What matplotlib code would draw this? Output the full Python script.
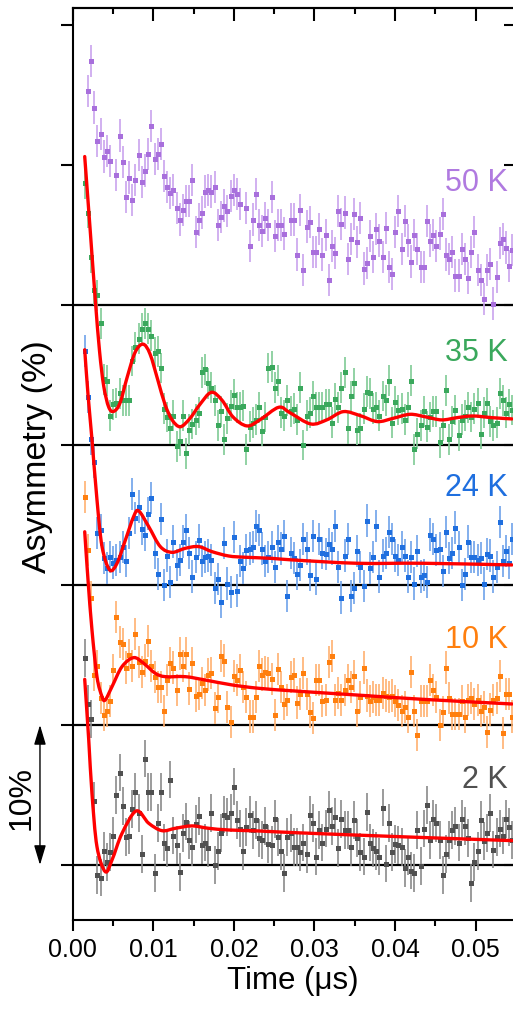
import numpy as np
import matplotlib
matplotlib.use('Agg')
import matplotlib.pyplot as plt
from matplotlib.path import Path
from matplotlib.patches import PathPatch
from matplotlib.ticker import MultipleLocator, FormatStrFormatter

plt.rcParams['font.family'] = ['Liberation Sans', 'DejaVu Sans']

# ---------------- data ----------------
time_us = [
    0.00150, 0.00189, 0.00229, 0.00268, 0.00307, 0.00347, 0.00386, 0.00425, 0.00464, 0.00504,
    0.00543, 0.00582, 0.00622, 0.00661, 0.00700, 0.00740, 0.00779, 0.00818, 0.00857, 0.00897,
    0.00936, 0.00975, 0.01015, 0.01054, 0.01093, 0.01133, 0.01172, 0.01211, 0.01250, 0.01290,
    0.01329, 0.01368, 0.01408, 0.01447, 0.01486, 0.01526, 0.01565, 0.01604, 0.01643, 0.01683,
    0.01722, 0.01761, 0.01801, 0.01840, 0.01879, 0.01919, 0.01958, 0.01997, 0.02036, 0.02076,
    0.02115, 0.02154, 0.02194, 0.02233, 0.02272, 0.02312, 0.02351, 0.02390, 0.02429, 0.02469,
    0.02508, 0.02547, 0.02587, 0.02626, 0.02665, 0.02705, 0.02744, 0.02783, 0.02822, 0.02862,
    0.02901, 0.02940, 0.02980, 0.03019, 0.03058, 0.03098, 0.03137, 0.03176, 0.03215, 0.03255,
    0.03294, 0.03333, 0.03373, 0.03412, 0.03451, 0.03491, 0.03530, 0.03569, 0.03608, 0.03648,
    0.03687, 0.03726, 0.03766, 0.03805, 0.03844, 0.03884, 0.03923, 0.03962, 0.04001, 0.04041,
    0.04080, 0.04119, 0.04159, 0.04198, 0.04237, 0.04277, 0.04316, 0.04355, 0.04394, 0.04434,
    0.04473, 0.04512, 0.04552, 0.04591, 0.04630, 0.04670, 0.04709, 0.04748, 0.04787, 0.04827,
    0.04866, 0.04905, 0.04945, 0.04984, 0.05023, 0.05063, 0.05102, 0.05141, 0.05180, 0.05220,
    0.05259, 0.05298, 0.05338, 0.05377, 0.05416, 0.05456]

asym_50K = [
    None, 15.3, 17.4, 14.1, 11.7, 12.2, 10.6, 11.0, 10.3, None,
    9.3, 12.1, 10.2, 7.7, 9.1, 7.5, 8.9, 10.7, 8.8, 9.6,
    10.8, 12.8, 10.4, 10.8, 11.5, 9.2, 8.4, 8.0, 8.2, 6.9,
    6.1, 6.8, 7.4, 7.4, 8.9, 5.2, 6.1, 6.6, 8.1, 8.2,
    8.1, 8.4, 5.7, 6.3, 7.1, 6.7, 7.8, 8.2, 7.9, 7.2,
    None, 6.9, 4.2, 6.1, 7.9, 5.7, 5.3, 6.2, 5.7, 7.7,
    4.9, 5.7, 5.7, 5.1, None, 6.1, 6.1, 3.6, 6.8, 2.5,
    5.6, 5.9, 3.8, 3.8, 5.4, 3.6, 5.0, 1.8, 4.2, 3.7,
    6.7, 5.8, 6.6, 3.3, 4.7, 6.5, 4.5, 6.2, 2.6, 3.0,
    4.9, 3.4, 5.4, 4.6, 3.4, 5.5, 2.7, 2.2, 5.2, 6.7,
    4.0, 6.0, 4.6, 3.1, 5.0, 4.0, 2.7, 2.7, 6.0, 4.6,
    5.0, 4.2, 5.1, 6.5, 3.6, 3.3, 3.8, 2.1, 2.1, 4.0,
    3.3, 1.9, 3.8, 5.2, 2.5, 1.8, 0.4, 2.5, 2.9, 0.1,
    2.0, 4.4, 4.7, 4.1, 2.8, 3.9]

asym_35K = [
    18.7, 16.6, 13.4, 11.1, 10.7, 8.7, 4.7, 4.6, 2.1, 2.9,
    3.0, 3.7, 3.2, 3.2, 3.2, 6.0, 7.0, 7.6, 8.3, 8.7,
    8.3, 7.8, 6.6, 6.7, 5.5, 2.6, 2.0, 1.2, 2.1, -0.1,
    0.3, 2.1, -0.6, 1.1, 1.5, 1.8, 2.3, 5.2, 5.4, 4.4,
    4.1, 3.2, 1.4, 2.4, 0.4, 1.9, 2.8, 3.6, 2.7, 2.7,
    2.8, -0.3, 1.3, 1.6, 1.8, 2.7, 1.0, 2.0, 5.5, 5.6,
    4.1, 4.6, 2.3, 2.1, 3.2, 2.4, 2.6, 1.8, 4.1, 0.0,
    2.1, 2.3, 3.5, 2.7, 2.7, 2.7, 2.9, 2.9, 1.6, 3.3,
    2.7, 4.1, 5.2, 1.2, 3.5, 4.4, 1.1, 1.2, 2.6, 3.8,
    3.7, 2.6, 2.7, 2.1, 3.5, 3.2, 4.6, 1.6, 3.1, 2.5,
    2.6, 1.8, 2.7, 4.6, -0.3, 0.8, 1.4, 2.4, 1.3, 2.0,
    2.4, 2.4, 0.2, 1.4, 3.9, 0.4, 1.7, 2.5, 0.7, 1.8,
    2.1, 2.7, 2.0, 2.6, 3.0, 0.8, 2.3, 3.0, 1.7, 1.4,
    1.6, 3.7, 3.2, 2.3, 2.9, 2.5]

asym_24K = [
    16.7, 13.4, 10.4, 8.8, 3.7, 3.9, 1.9, 1.2, 2.0, 1.6,
    1.8, 2.0, 2.7, 1.7, 3.7, 6.5, 4.8, 5.6, 4.0, 3.6,
    5.1, 6.2, 2.3, 0.8, 4.7, 0.0, 2.1, 0.2, 3.1, 1.4,
    1.8, 3.1, 3.9, 2.3, 0.6, 2.0, 3.2, 1.7, 2.0, 2.1,
    1.8, -0.2, 0.4, -1.2, 3.0, 0.1, -0.5, 3.4, -0.4, 1.7,
    1.2, 2.5, 2.6, 2.7, 4.2, 3.9, 2.6, 1.7, 2.0, 2.7,
    1.3, 3.1, 2.6, 3.5, -0.8, 2.3, 1.9, 0.8, 1.4, 3.3,
    2.6, 0.7, 3.5, 0.4, 3.3, 2.3, 2.2, 2.9, 2.6, 4.2,
    1.3, -0.9, 2.1, 3.3, -0.8, -0.2, 2.4, 1.3, -0.1, 4.6,
    1.2, 2.0, 4.2, 0.6, 2.1, 2.3, 3.8, 3.3, 2.1, 1.8,
    2.7, 2.1, 0.6, 2.0, 0.1, 2.4, 0.6, 0.7, 0.2, 3.6,
    3.3, 2.5, 2.6, 1.0, 3.8, 1.9, 2.3, 4.1, 2.7, 0.0,
    0.8, 3.1, 2.0, 2.0, 1.8, 1.9, 0.1, 2.2, 2.1, 0.6,
    1.3, 4.5, 1.7, 2.4, 1.6, 3.3]

asym_10K = [
    16.3, 12.5, 9.1, 3.6, 4.2, 1.9, 0.7, 1.0, 1.7, 3.9,
    7.7, 5.9, 5.8, 4.1, 5.0, 4.2, 6.5, 4.5, 3.8, 4.6,
    6.0, 4.2, 3.4, 2.7, 2.7, 1.0, 3.2, 4.4, 4.1, 2.5,
    5.1, 4.2, 5.1, 2.6, 4.4, 2.1, 2.2, 3.0, 2.5, 3.6,
    3.7, 1.2, 2.0, 4.9, 4.6, 1.3, 0.2, 3.5, 3.2, 3.9,
    2.7, 2.0, 0.6, 0.6, 2.0, 4.2, 3.6, 3.8, 3.7, 3.3,
    0.7, 4.0, 2.7, 1.5, 1.8, 3.4, 3.6, 1.6, 2.2, 3.7,
    2.2, 0.9, 0.5, 3.2, 3.2, 1.7, 1.8, 4.5, 4.9, 1.8,
    2.3, 1.8, 2.5, 3.2, 2.7, 3.5, 1.0, 2.0, 4.1, 2.1,
    1.7, 2.0, 1.8, 1.8, 2.3, 2.1, 2.0, 2.1, 1.7, 1.4,
    1.0, 1.3, 0.6, 3.8, 1.0, -0.7, 1.7, 1.7, 1.7, 3.2,
    2.5, 2.0, 0.0, 0.9, 4.1, 1.9, 0.8, 0.8, 0.8, 1.7,
    0.6, 1.8, 1.9, 1.5, 1.8, 1.0, 1.3, -0.5, 1.1, 1.8,
    1.9, 3.5, -0.6, 2.2, 2.2, 0.6]

asym_2K = [
    14.8, 11.5, 10.4, 4.6, -0.7, -0.9, 1.0, 0.2, 0.9, 2.1,
    5.0, 6.6, 4.2, 2.0, 2.1, 4.0, 5.2, 3.7, 0.8, 7.6,
    5.2, 5.2, -0.6, 3.0, 5.2, 1.6, 1.2, 6.1, 2.1, 1.4,
    -0.5, 2.3, 3.1, 1.8, 1.3, 2.9, 3.5, 1.4, 1.6, 1.2,
    3.7, 0.0, 1.0, 2.3, 3.6, 3.4, 3.7, 5.6, 3.2, 2.6,
    1.0, 2.7, 3.6, 2.5, 3.2, 1.9, 1.8, 2.8, 1.5, 1.4,
    3.3, 2.0, 1.0, -0.6, 2.0, 2.3, 1.3, 1.3, 0.9, 1.6,
    0.8, 3.6, 3.0, 0.6, 2.5, 1.6, 2.6, 3.9, 2.8, 3.4,
    1.2, 3.3, 2.5, 2.5, 1.3, 3.2, 1.9, 0.9, 0.6, 3.8,
    1.6, 1.2, 1.0, 0.6, 4.1, 0.1, 3.0, 0.9, 1.5, 1.4,
    1.3, -0.2, 0.6, -0.4, -0.6, 2.5, -0.1, 2.6, 4.3, 1.8,
    3.3, 3.0, 1.8, -0.7, 0.8, 1.8, 2.5, 2.8, 1.6, 3.3,
    2.8, 1.9, -1.3, 0.2, 1.0, 3.2, 1.7, 2.3, 3.7, 1.1,
    2.0, 2.6, 2.1, 3.3, 2.7, 1.8]

# fitted curves
fit_35K_t = [0.00149, 0.00215, 0.00280, 0.00333, 0.00385, 0.00447, 0.00509, 0.00587,
             0.00674, 0.00773, 0.00872, 0.00959, 0.01058, 0.01145, 0.01232, 0.01335,
             0.01455, 0.01579, 0.01720, 0.01852, 0.01989, 0.02162, 0.02324, 0.02556,
             0.02696, 0.02953, 0.03155, 0.03357, 0.03565, 0.03779, 0.03974, 0.04185,
             0.04383, 0.04578, 0.04768, 0.04963, 0.05202, 0.05450]
fit_35K = [20.6, 15.5, 10.4, 6.7, 4.2, 2.7, 2.4, 3.0,
           4.8, 6.6, 7.2, 6.5, 4.6, 2.9, 1.8, 1.3,
           1.9, 2.9, 3.76, 3.2, 2.0, 1.36, 1.8, 2.69,
           2.3, 1.5, 1.8, 2.38, 2.1, 1.67, 1.9, 2.19,
           2.0, 1.79, 1.95, 2.07, 1.95, 1.86]

fit_24K_t = [0.00149, 0.00190, 0.00239, 0.00301, 0.00364, 0.00459, 0.00550, 0.00653,
             0.00757, 0.00819, 0.00943, 0.01087, 0.01232, 0.01397, 0.01563, 0.01728,
             0.01935, 0.02141, 0.02473, 0.02721, 0.03524, 0.04350, 0.05450]
fit_24K = [16.8, 13.6, 10.4, 6.1, 2.74, 1.07, 1.55, 3.2,
           4.9, 5.29, 4.17, 2.74, 2.33, 2.62, 2.74, 2.38,
           2.07, 1.98, 1.9, 1.79, 1.55, 1.55, 1.43]

fit_10K_t = [0.00149, 0.00190, 0.00239, 0.00301, 0.00364, 0.00404, 0.00488, 0.00612,
             0.00757, 0.00881, 0.01025, 0.01149, 0.01397, 0.01645, 0.01976, 0.02308,
             0.02746, 0.03524, 0.04350, 0.05450]
fit_10K = [13.8, 10.36, 6.79, 3.45, 2.02, 1.79, 2.74, 4.17,
           4.81, 4.4, 3.69, 3.45, 3.45, 3.21, 2.86, 2.62,
           2.43, 2.14, 1.83, 1.5]

fit_2K_t = [0.00149, 0.00199, 0.00239, 0.00301, 0.00404, 0.00488, 0.00612, 0.00789,
            0.00943, 0.01108, 0.01273, 0.01480, 0.01687, 0.01935, 0.02308, 0.02746,
            0.04061, 0.05450]
fit_2K = [13.26, 8.93, 5.12, 1.31, -0.48, 0.36, 2.26, 3.86,
          2.98, 2.45, 2.62, 2.79, 2.62, 2.5, 2.43, 2.31,
          2.02, 1.74]

temperatures = ['50 K', '35 K', '24 K', '10 K', '2 K']
series = [asym_50K, asym_35K, asym_24K, asym_10K, asym_2K]
fits = [None, (fit_35K_t, fit_35K), (fit_24K_t, fit_24K), (fit_10K_t, fit_10K), (fit_2K_t, fit_2K)]
offsets = [40, 30, 20, 10, 0]
errors = [1.15, 1.1, 1.15, 1.15, 1.35]
colors = ['#a86fdc', '#3aa85c', '#1f6fdf', '#ff7f0e', '#505050']
label_colors = ['#b07ae0', '#3aa85c', '#1f6fdf', '#ff7f0e', '#505050']
bar_colors = ['#c9a3ee', '#7fcb95', '#6ea2ea', '#ffb070', '#8a8a8a']
label_heights = [8.7, 6.6, 6.9, 6.1, 6.1]


def smooth_path(xs, ys):
    """Smooth (Catmull-Rom as cubic Bezier) path passing through the read points."""
    P = np.column_stack([xs, ys]).astype(float)
    E = np.vstack([2 * P[0] - P[1], P, 2 * P[-1] - P[-2]])
    verts = [P[0]]
    codes = [Path.MOVETO]
    for i in range(len(P) - 1):
        p0, p1, p2, p3 = E[i], E[i + 1], E[i + 2], E[i + 3]
        verts += [p1 + (p2 - p0) / 6.0, p2 - (p3 - p1) / 6.0, p2]
        codes += [Path.CURVE4] * 3
    return Path(verts, codes)


# ---------------- figure ----------------
W, H = 513, 1009
fig = plt.figure(figsize=(W / 100, H / 100), dpi=100)
ax = fig.add_axes([72.7 / W, 89 / H, (513.5 - 72.7) / W, 912 / H])
ax.set_xlim(0, 0.05469)
ax.set_ylim(-3.93, 61.21)

t = np.array(time_us)
for name, vals, fit, off, err, c, lc, bc, lh in zip(temperatures, series, fits, offsets, errors,
                                                    colors, label_colors, bar_colors,
                                                    label_heights):
    ax.axhline(off, color='black', lw=1.6, zorder=1)
    y = np.array(vals, dtype=float) + off
    ax.errorbar(t, y, yerr=err, fmt='s', ms=3.6, color=c, mec=c, mew=0, ecolor=bc,
                elinewidth=1.2, capsize=0, zorder=2)
    if fit is not None:
        path = smooth_path(fit[0], np.array(fit[1]) + off)
        ax.add_patch(PathPatch(path, fill=False, edgecolor='#ff0000', lw=2.4, zorder=3,
                               joinstyle='round', capstyle='round'))
    ax.text(0.0540, off + lh, name, ha='right', va='center', color=lc, fontsize=22)

# axes styling
for s in ax.spines.values():
    s.set_linewidth(1.5)
ax.spines['right'].set_visible(False)

ax.xaxis.set_major_locator(MultipleLocator(0.01))
ax.xaxis.set_minor_locator(MultipleLocator(0.005))
ax.xaxis.set_major_formatter(FormatStrFormatter('%.2f'))
ax.yaxis.set_major_locator(MultipleLocator(10))
ax.tick_params(axis='x', which='major', direction='out', length=8, width=1.5,
               labelsize=18, pad=5, top=False)
ax.tick_params(axis='x', which='minor', direction='out', length=4, width=1.5, top=False)
ax.tick_params(axis='y', which='major', direction='out', length=9, width=1.5,
               labelleft=False, right=False)

top = ax.secondary_xaxis('top')
top.xaxis.set_major_locator(MultipleLocator(0.01))
top.xaxis.set_minor_locator(MultipleLocator(0.005))
top.tick_params(which='major', direction='in', length=9, width=1.5, labeltop=False)
top.tick_params(which='minor', direction='in', length=4.5, width=1.5)
top.spines['top'].set_linewidth(1.5)

right = ax.secondary_yaxis('right')
right.yaxis.set_major_locator(MultipleLocator(10))
right.tick_params(which='major', direction='in', length=7, width=1.5, labelright=False)

ax.set_xlabel('Time (μs)', fontsize=22.5, labelpad=3)
fig.text(38 / W, 1 - 457 / H, 'Asymmetry (%)', rotation=90, ha='center', va='center',
         fontsize=24.5)
fig.text(22 / W, 1 - 798 / H, '10%', rotation=90, ha='center', va='center', fontsize=23)
ax.annotate('', xy=(-0.00406, 10), xytext=(-0.00406, 0), annotation_clip=False,
            arrowprops=dict(arrowstyle='<|-|>,head_length=0.6,head_width=0.18',
                            mutation_scale=20, color='black', lw=1.0,
                            shrinkA=0, shrinkB=0))

fig.savefig('out.png', dpi=100)
